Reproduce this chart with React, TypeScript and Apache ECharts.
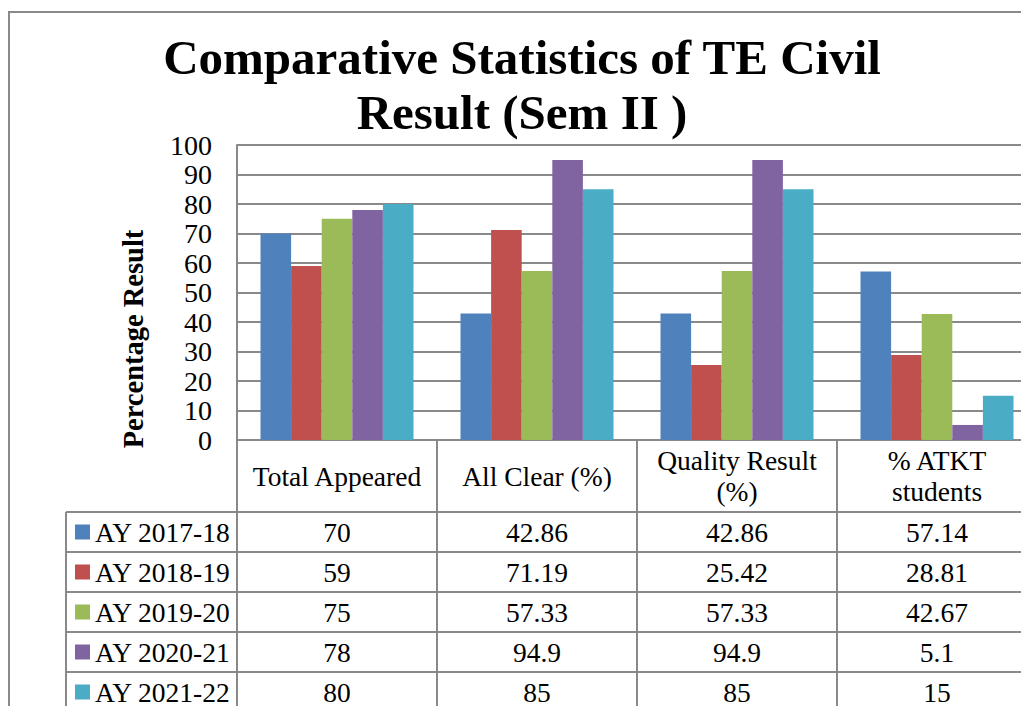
import React, { useEffect, useRef } from "react";
import * as echarts from "echarts";

const categories = ["Total Appeared", "All Clear (%)", "Quality Result\n(%)", "% ATKT\nstudents"];
const seriesNames = ["AY 2017-18", "AY 2018-19", "AY 2019-20", "AY 2020-21", "AY 2021-22"];
const ay201718 = [70, 42.86, 42.86, 57.14];
const ay201819 = [59, 71.19, 25.42, 28.81];
const ay201920 = [75, 57.33, 57.33, 42.67];
const ay202021 = [78, 94.9, 94.9, 5.1];
const ay202122 = [80, 85, 85, 15];
const seriesValues = [ay201718, ay201819, ay201920, ay202021, ay202122];
const colors = ["#4F81BD", "#C0504D", "#9BBB59", "#8064A2", "#4BACC6"];
const yTicks = { min: 0, max: 100, interval: 10 };
const titleLines = ["Comparative Statistics of TE Civil", "Result (Sem II )"];
const yAxisTitle = "Percentage Result";

const FONT = '"Liberation Serif", "DejaVu Serif", serif';
const LINE = "#898989";

export default function App() {
  const ref = useRef<HTMLDivElement>(null);
  useEffect(() => {
    if (!ref.current) return;
    const chart = echarts.init(ref.current, null, { renderer: "svg" });
    const gridLeft = 237;
    const gridTop = 145;
    const gridH = 295;
    const catW = 200;
    const gridW = catW * categories.length;
    const tableTop = gridTop + gridH;
    const headerH = 72;
    const rowH = 40;
    const legendLeft = 66;
    const bottom = 760;
    const rightEnd = gridLeft + gridW + 40;
    const tableFont = 27.5;

    const g: any[] = [];
    g.push({ type: "rect", shape: { x: 9, y: 12, width: 1200, height: 900 }, style: { fill: "none", stroke: LINE, lineWidth: 2 }, silent: true });
    titleLines.forEach((t, i) => {
      g.push({ type: "text", x: 522, y: 57 + i * 55, style: { text: t, fontFamily: FONT, fontWeight: "bold", fontSize: 49, fill: "#000", align: "center", verticalAlign: "middle" } });
    });
    g.push({ type: "text", x: 133, y: 339, rotation: Math.PI / 2, style: { text: yAxisTitle, fontFamily: FONT, fontWeight: "bold", fontSize: 28.5, fill: "#000", align: "center", verticalAlign: "middle" } });
    const hLine = (y: number, x1: number) => g.push({ type: "line", shape: { x1, y1: y, x2: rightEnd, y2: y }, style: { stroke: LINE, lineWidth: 2 }, silent: true });
    const vLine = (x: number, y1: number) => g.push({ type: "line", shape: { x1: x, y1, x2: x, y2: bottom }, style: { stroke: LINE, lineWidth: 2 }, silent: true });
    hLine(tableTop, gridLeft);
    for (let r = 0; r <= seriesNames.length; r++) hLine(tableTop + headerH + r * rowH, legendLeft);
    vLine(legendLeft, tableTop + headerH);
    vLine(gridLeft, gridTop);
    for (let c = 1; c <= categories.length; c++) vLine(gridLeft + c * catW, tableTop);
    categories.forEach((cat, c) => {
      g.push({ type: "text", x: gridLeft + c * catW + catW / 2, y: tableTop + headerH / 2, style: { text: cat, fontFamily: FONT, fontSize: tableFont, lineHeight: 31, fill: "#000", align: "center", verticalAlign: "middle" } });
    });
    seriesNames.forEach((name, r) => {
      const cy = tableTop + headerH + r * rowH + rowH / 2;
      g.push({ type: "rect", shape: { x: 75, y: cy - 7.5, width: 15, height: 15 }, style: { fill: colors[r] }, silent: true });
      g.push({ type: "text", x: 95, y: cy, style: { text: name, fontFamily: FONT, fontSize: tableFont, fill: "#000", align: "left", verticalAlign: "middle" } });
      seriesValues[r].forEach((v, c) => {
        g.push({ type: "text", x: gridLeft + c * catW + catW / 2, y: cy, style: { text: String(v), fontFamily: FONT, fontSize: tableFont, fill: "#000", align: "center", verticalAlign: "middle" } });
      });
    });

    chart.setOption({
      animation: false,
      backgroundColor: "#fff",
      grid: { left: gridLeft, top: gridTop, width: gridW, height: gridH, containLabel: false },
      xAxis: {
        type: "category",
        data: categories,
        axisLabel: { show: false },
        axisTick: { show: false },
        axisLine: { show: false },
      },
      yAxis: {
        type: "value",
        min: yTicks.min,
        max: yTicks.max,
        interval: yTicks.interval,
        axisLine: { show: true, lineStyle: { color: LINE, width: 2 } },
        axisTick: { show: false },
        axisLabel: { margin: 25, fontFamily: FONT, fontSize: 28, color: "#000" },
        splitLine: { lineStyle: { color: LINE, width: 2 } },
      },
      series: seriesNames.map((name, i) => ({
        type: "bar",
        name,
        data: seriesValues[i],
        barGap: "0%",
        barCategoryGap: "23.5%",
        itemStyle: { color: colors[i] },
      })),
      graphic: g,
    });
    return () => chart.dispose();
  }, []);
  return (
    <div style={{ position: "absolute", left: 0, top: 0, width: 1021, height: 706, overflow: "hidden", background: "#fff" }}>
      <div ref={ref} style={{ width: 1100, height: 760 }} />
    </div>
  );
}
